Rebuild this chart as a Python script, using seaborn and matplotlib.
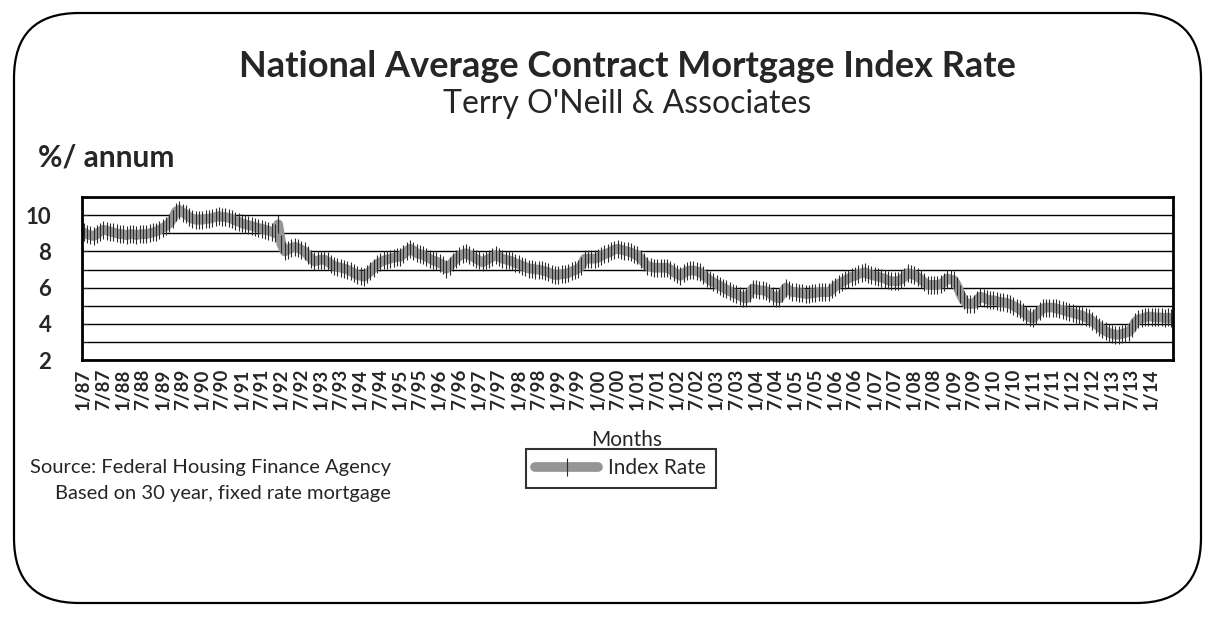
import numpy as np
import pandas as pd
import matplotlib
matplotlib.use("Agg")
import matplotlib.pyplot as plt
from matplotlib.patches import FancyBboxPatch
import seaborn as sns

# monthly index rate (% per annum), Jan 1987 .. Jul 2014
rate_1987 = [9.05, 8.95, 8.9, 8.85, 8.95, 9.1, 9.2, 9.15, 9.1, 9.05, 9.0, 8.95]
rate_1988 = [8.95, 8.9, 8.95, 8.95, 8.9, 8.95, 8.95, 8.95, 9.0, 9.05, 9.1, 9.2]
rate_1989 = [9.3, 9.4, 9.55, 9.8, 10.2, 10.3, 10.15, 10.05, 9.9, 9.8, 9.75, 9.75]
rate_1990 = [9.75, 9.8, 9.8, 9.85, 9.9, 9.95, 9.9, 9.9, 9.85, 9.8, 9.7, 9.65]
rate_1991 = [9.55, 9.5, 9.45, 9.4, 9.35, 9.3, 9.25, 9.2, 9.15, 9.1, 9.0, 9.5]
rate_1992 = [8.4, 8.0, 8.1, 8.2, 8.25, 8.2, 8.1, 8.0, 7.8, 7.6, 7.45, 7.5]
rate_1993 = [7.55, 7.55, 7.45, 7.3, 7.2, 7.15, 7.1, 7.05, 7.0, 6.9, 6.8, 6.7]
rate_1994 = [6.65, 6.6, 6.75, 6.9, 7.1, 7.3, 7.4, 7.5, 7.55, 7.6, 7.65, 7.7]
rate_1995 = [7.7, 7.85, 8.0, 8.15, 8.05, 7.9, 7.85, 7.8, 7.7, 7.6, 7.5, 7.45]
rate_1996 = [7.35, 7.25, 7.05, 7.2, 7.4, 7.6, 7.75, 7.85, 7.9, 7.8, 7.7, 7.6]
rate_1997 = [7.5, 7.4, 7.5, 7.6, 7.7, 7.8, 7.7, 7.6, 7.55, 7.5, 7.45, 7.35]
rate_1998 = [7.3, 7.2, 7.15, 7.05, 7.05, 7.0, 7.0, 6.95, 6.9, 6.85, 6.75, 6.7]
rate_1999 = [6.7, 6.75, 6.75, 6.8, 6.9, 6.95, 7.05, 7.2, 7.6, 7.6, 7.6, 7.6]
rate_2000 = [7.65, 7.75, 7.85, 7.9, 8.0, 8.1, 8.15, 8.1, 8.05, 8.0, 7.95, 7.85]
rate_2001 = [7.8, 7.6, 7.4, 7.2, 7.15, 7.1, 7.1, 7.1, 7.1, 7.1, 7.0, 6.85]
rate_2002 = [6.75, 6.65, 6.8, 6.9, 6.95, 6.95, 6.9, 6.85, 6.7, 6.55, 6.4, 6.3]
rate_2003 = [6.2, 6.1, 6.0, 5.9, 5.8, 5.7, 5.65, 5.55, 5.45, 5.4, 5.7, 5.95]
rate_2004 = [5.9, 5.85, 5.85, 5.8, 5.7, 5.55, 5.45, 5.4, 5.7, 6.0, 5.85, 5.75]
rate_2005 = [5.75, 5.7, 5.7, 5.65, 5.65, 5.7, 5.7, 5.75, 5.75, 5.75, 5.75, 5.9]
rate_2006 = [6.05, 6.2, 6.3, 6.4, 6.5, 6.6, 6.65, 6.75, 6.8, 6.85, 6.75, 6.7]
rate_2007 = [6.65, 6.6, 6.55, 6.5, 6.4, 6.35, 6.35, 6.35, 6.45, 6.6, 6.8, 6.75]
rate_2008 = [6.7, 6.6, 6.45, 6.3, 6.15, 6.15, 6.15, 6.15, 6.2, 6.3, 6.5, 6.45]
rate_2009 = [6.4, 6.1, 5.65, 5.3, 5.1, 5.1, 5.1, 5.3, 5.5, 5.45, 5.35, 5.3]
rate_2010 = [5.3, 5.25, 5.2, 5.2, 5.15, 5.1, 5.0, 4.9, 4.8, 4.65, 4.5, 4.35]
rate_2011 = [4.3, 4.5, 4.7, 4.85, 4.9, 4.9, 4.9, 4.85, 4.8, 4.75, 4.7, 4.65]
rate_2012 = [4.6, 4.55, 4.5, 4.45, 4.35, 4.3, 4.15, 4.0, 3.85, 3.7, 3.6, 3.5]
rate_2013 = [3.45, 3.4, 3.4, 3.45, 3.5, 3.55, 3.75, 4.1, 4.25, 4.3, 4.35, 4.4]
rate_2014 = [4.4, 4.35, 4.35, 4.35, 4.3, 4.35, 4.3]

years = list(range(1987, 2015))
tick_labels = [f"{mo}/{str(y)[2:]}" for y in years for mo in (1, 7)][:-1]  # 1/87 .. 1/14

rates = (rate_1987 + rate_1988 + rate_1989 + rate_1990 + rate_1991 + rate_1992
         + rate_1993 + rate_1994 + rate_1995 + rate_1996 + rate_1997 + rate_1998
         + rate_1999 + rate_2000 + rate_2001 + rate_2002 + rate_2003 + rate_2004
         + rate_2005 + rate_2006 + rate_2007 + rate_2008 + rate_2009 + rate_2010
         + rate_2011 + rate_2012 + rate_2013 + rate_2014)
df = pd.DataFrame({"month": np.arange(len(rates)), "rate": rates})

sns.set_style("white")
plt.rcParams["font.family"] = ["Lato", "DejaVu Sans"]

fig = plt.figure(figsize=(12.15, 6.17), dpi=100)
ax = fig.add_axes([0.0675, 0.4165, 0.898, 0.264])

# rounded outer frame
frame = FancyBboxPatch((0.14, 0.14), 11.87, 5.9, boxstyle="round,pad=0,rounding_size=0.65",
                       transform=fig.dpi_scale_trans, fill=False, edgecolor="black", linewidth=1.6)
fig.patches.append(frame)

sns.lineplot(data=df, x="month", y="rate", ax=ax, color="#959595", linewidth=7,
             marker="|", markersize=13, markeredgecolor="#2b2b2b", markeredgewidth=0.8,
             solid_capstyle="round", label="Index Rate")

ax.set_ylim(2, 11)
ax.set_xlim(-0.5, len(rates) - 0.5)
ax.set_yticks([2, 4, 6, 8, 10])
ax.set_yticks([3, 5, 7, 9, 11], minor=True)
ax.set_yticklabels(["2", "4", "6", "8", "10"], fontsize=16, fontweight="bold")
ax.grid(True, axis="y", which="both", color="black", linewidth=1)
ax.set_xticks(np.arange(0, 6 * len(tick_labels), 6))
ax.set_xticklabels(tick_labels, rotation=90, fontsize=13.5, fontweight="bold")
ax.tick_params(axis="y", which="both", direction="in", length=4, left=True, pad=22)
ax.tick_params(axis="x", length=0, pad=6)
for s in ax.spines.values():
    s.set_color("black")
    s.set_linewidth(2)
ax.set_xlabel("")
ax.set_ylabel("")

leg = ax.legend(loc="center", bbox_to_anchor=(0.511, 0.241), bbox_transform=fig.transFigure,
                frameon=True, fancybox=False, fontsize=15, handlelength=3.0,
                handletextpad=0.5, borderpad=0.45, borderaxespad=0, edgecolor="black")
leg.get_frame().set_linewidth(1.5)

fig.text(0.516, 0.893, "National Average Contract Mortgage Index Rate", ha="center", va="center",
         fontsize=26, fontweight="bold")
fig.text(0.516, 0.831, "Terry O'Neill & Associates", ha="center", va="center", fontsize=23)
fig.text(0.031, 0.745, "%/ annum", ha="left", va="center", fontsize=21.5, fontweight="bold")
fig.text(0.516, 0.287, "Months", ha="center", va="center", fontsize=15)
fig.text(0.322, 0.243, "Source: Federal Housing Finance Agency", ha="right", va="center", fontsize=14.5)
fig.text(0.322, 0.200, "Based on 30 year, fixed rate mortgage", ha="right", va="center", fontsize=14.5)

fig.savefig("out.png", dpi=100)
